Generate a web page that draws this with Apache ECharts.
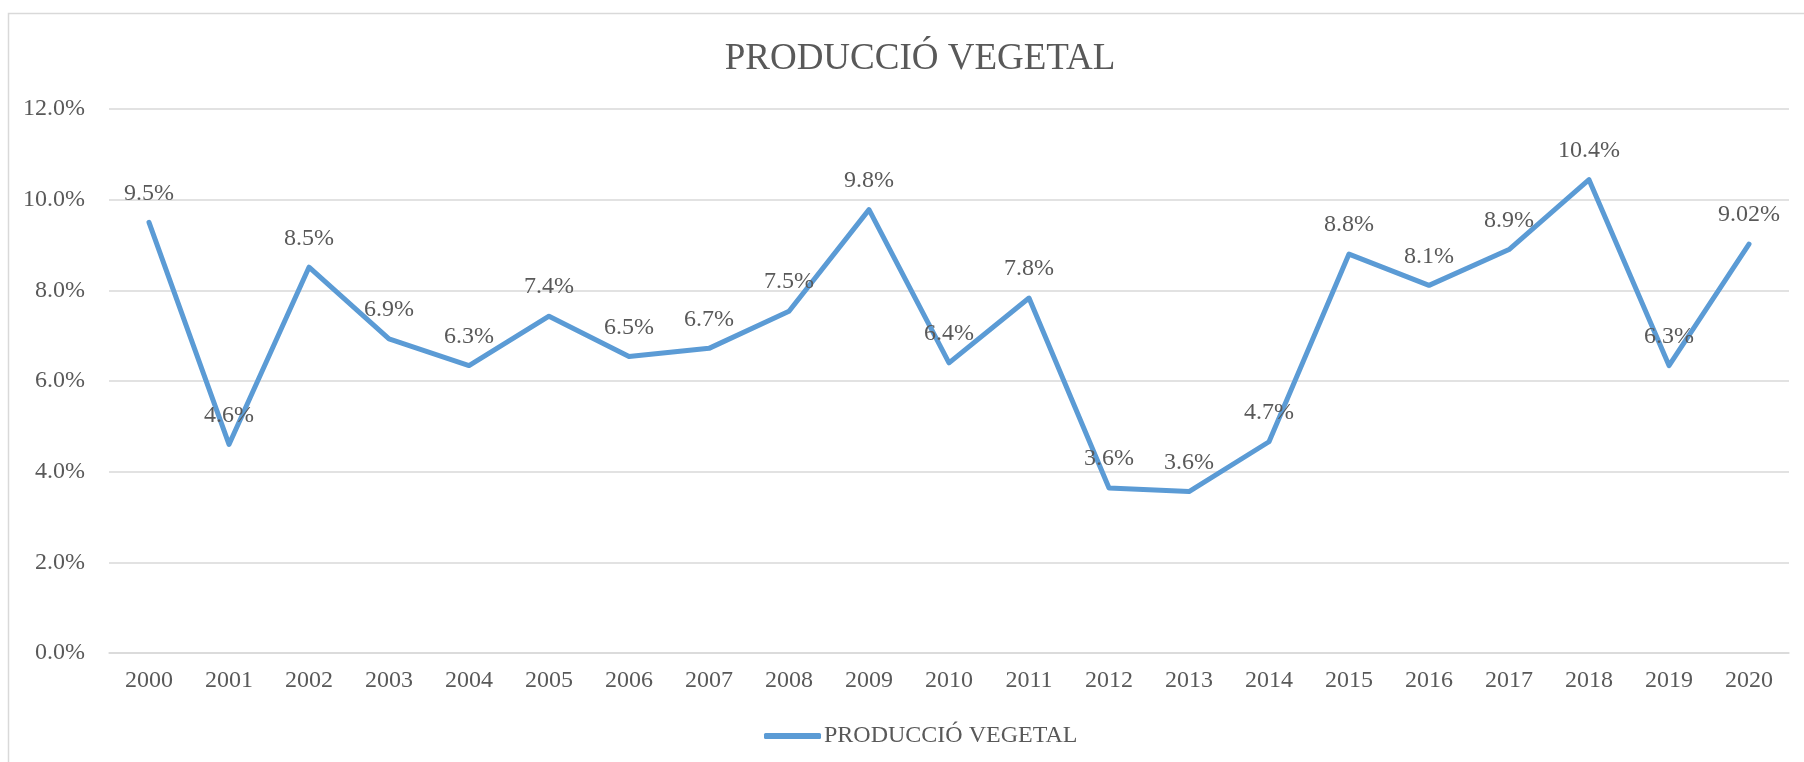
<!DOCTYPE html>
<html>
<head>
<meta charset="utf-8" />
<script src="https://cdn.jsdelivr.net/npm/echarts@6/dist/echarts.min.js"></script>
<style>
  html, body { margin: 0; padding: 0; background: #fff; }
  #main { width: 1804px; height: 762px; }
</style>
</head>
<body>
<div id="main"></div>
<script type="text/javascript">
	// dades del gràfic
	var years = ['2000','2001','2002','2003','2004','2005','2006','2007','2008','2009','2010',
		'2011','2012','2013','2014','2015','2016','2017','2018','2019','2020'];
	var produccio = [9.50, 4.60, 8.51, 6.93, 6.34, 7.43, 6.54, 6.72, 7.54, 9.78, 6.40,
		7.83, 3.64, 3.56, 4.66, 8.80, 8.11, 8.90, 10.44, 6.34, 9.02];
	var serieName = 'PRODUCCIÓ VEGETAL';
	var yMin = 0, yMax = 12, yStep = 2;

	var font = '"Liberation Serif", "Times New Roman", serif';
	var grey = '#595959';
	var blue = '#5b9bd5';

	var myChart = echarts.init(document.getElementById('main'));

	var option = {
		backgroundColor: '#fff',
		animation: false,
		title: {
			text: serieName,
			left: 915,
			textAlign: 'center',
			top: 36,
			textStyle: { fontFamily: font, fontSize: 37, fontWeight: 'normal', color: grey }
		},
		legend: {
			data: [serieName],
			left: 759,
			top: 719,
			icon: 'roundRect',
			itemWidth: 57,
			itemHeight: 6,
			itemGap: 10,
			textStyle: { fontFamily: font, fontSize: 24, color: grey, padding: [0, 0, 0, -2] }
		},
		grid: { left: 109, right: 15, top: 109, bottom: 109 },
		xAxis: {
			type: 'category',
			data: years,
			boundaryGap: true,
			axisLine: { lineStyle: { color: '#d9d9d9', width: 1.5 } },
			axisTick: { show: false },
			axisLabel: { fontFamily: font, fontSize: 24, color: grey, margin: 16, interval: 0 }
		},
		yAxis: {
			type: 'value',
			min: yMin,
			max: yMax,
			interval: yStep,
			axisLine: { show: false },
			axisTick: { show: false },
			splitLine: { lineStyle: { color: '#d9d9d9', width: 1.5 } },
			axisLabel: {
				fontFamily: font, fontSize: 24, color: grey, margin: 24,
				formatter: function (v) { return v.toFixed(1) + '%'; }
			}
		},
		series: [{
			name: serieName,
			type: 'line',
			data: produccio,
			symbol: 'circle',
			symbolSize: 2,
			lineStyle: { color: blue, width: 5, cap: 'round', join: 'round' },
			itemStyle: { color: blue },
			label: {
				show: true,
				position: 'top',
				distance: 16,
				fontFamily: font,
				fontSize: 24,
				color: grey,
				formatter: function (p) {
					var d = p.dataIndex === produccio.length - 1 ? 2 : 1;
					return p.value.toFixed(d) + '%';
				}
			}
		}],
		graphic: [{
			type: 'rect',
			shape: { x: 8.5, y: 13.5, width: 1820, height: 800 },
			style: { fill: null, stroke: '#d9d9d9', lineWidth: 1.5 },
			silent: true,
			z: -1
		}]
	};

	myChart.setOption(option);
</script>
</body>
</html>
